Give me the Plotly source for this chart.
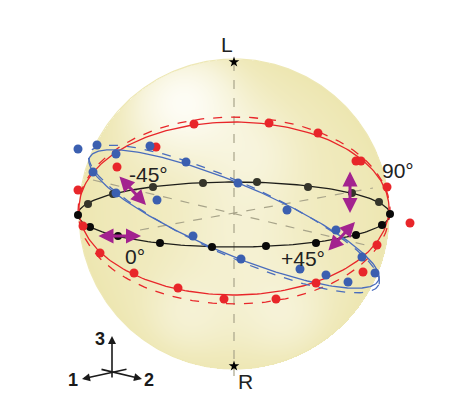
import numpy as np
import plotly.graph_objects as go

# measured points (screen coordinates of the figure, y grows downward)
red_x = [78, 117, 156, 194, 269, 318, 356, 361, 387, 410, 377, 363, 316, 276, 224, 178, 134, 100, 83]
red_y = [190, 167, 147, 124, 123, 133, 161, 161, 187, 223, 245, 272, 283, 299, 299, 288, 273, 253, 226]

blue_x = [78, 97, 150, 116, 186, 93, 116, 157, 238, 287, 193, 241, 336, 300, 326, 348, 375, 362]
blue_y = [149, 145, 146, 154, 162, 172, 193, 200, 183, 210, 236, 259, 230, 269, 275, 282, 273, 257]

black_back_x = [88, 113, 153, 203, 257, 308, 352, 379]
black_back_y = [204, 194, 187, 183, 182, 187, 193, 202]
black_front_x = [78, 90, 118, 160, 212, 266, 316, 356, 382, 390]
black_front_y = [215, 227, 236, 243, 247, 246, 243, 235, 225, 214]

# fitted circles seen in projection: (cx, cy, a, b, tilt deg)
fits = {
    "equator": (234, 214.5, 156, 32.5, 0),
    "red": (234, 208.5, 155, 86.5, 0),
    "red_dash": (234, 210.5, 156, 93.5, 0),
    "blue": (234, 219, 157, 35, 23),
    "blue_dash": (234, 219, 159, 36.5, 24.5),
}

arrow_labels = ["-45°", "0°", "90°", "+45°"]

SX, SY, SR = 234, 214, 155

W, H = 463, 408
OFF = 8  # page body margin
MAG = "#a3238f"
RED = "#e8262a"
BLUE = "#3b5fb0"


def ellipse(cx, cy, a, b, deg, n=240):
    t = np.linspace(0, 2 * np.pi, n)
    th = np.radians(deg)
    x = cx + a * np.cos(t) * np.cos(th) - b * np.sin(t) * np.sin(th)
    y = cy + a * np.cos(t) * np.sin(th) + b * np.sin(t) * np.cos(th)
    return x, y


fig = go.Figure()

# shaded sphere
gx = np.arange(SX - SR - 1, SX + SR + 2, 1.0)
gy = np.arange(SY - SR - 1, SY + SR + 2, 1.0)
XX, YY = np.meshgrid(gx, gy)
rr = np.hypot(XX - SX, YY - SY) / SR


def blob(x0, y0, s, k):
    return k * np.exp(-((XX - x0) ** 2 + (YY - y0) ** 2) / (2 * s ** 2))


shade = 0.35 - 0.12 * rr ** 6
shade += blob(180, 98, 40, 0.55) + blob(255, 152, 35, 0.2) + blob(240, 235, 45, 0.18)
shade += blob(285, 318, 35, 0.22) + blob(185, 318, 32, 0.2)
shade[rr > 1] = np.nan
fig.add_trace(go.Heatmap(
    x=gx, y=gy, z=shade, zmin=0.2, zmax=0.9, showscale=False, hoverinfo="skip",
    colorscale=[[0, "#ece5ad"], [0.25, "#f0eabd"], [0.6, "#f7f4dc"], [1, "#fefdf7"]],
))
cxs, cys = ellipse(SX, SY, SR, SR, 0, 400)
fig.add_trace(go.Scatter(x=cxs, y=cys, mode="lines", line=dict(color="#eee8b6", width=1.2),
                         hoverinfo="skip"))

# dashed gray axes
grey = dict(color="#a8a48a", width=1.2, dash="dash")
fig.add_trace(go.Scatter(x=[SX, SX], y=[62, 376], mode="lines", line=grey))
fig.add_trace(go.Scatter(x=[93, 374], y=[180, 247], mode="lines", line=grey))
fig.add_trace(go.Scatter(x=[140, 373], y=[230, 188], mode="lines", line=grey))

# fitted lines
for key, col, dash in [("equator", "#1e1e1a", "solid"), ("red", RED, "solid"),
                       ("red_dash", RED, "dash"), ("blue", "#4a6dbd", "solid"),
                       ("blue_dash", "#4a6dbd", "dash")]:
    ex, ey = ellipse(*fits[key])
    fig.add_trace(go.Scatter(x=ex, y=ey, mode="lines",
                             line=dict(color=col, width=1.3, dash=dash), hoverinfo="skip"))

# dots
fig.add_trace(go.Scatter(x=black_back_x, y=black_back_y, mode="markers",
                         marker=dict(size=8, color="#35352a")))
fig.add_trace(go.Scatter(x=black_front_x, y=black_front_y, mode="markers",
                         marker=dict(size=8, color="#0a0a0a")))
fig.add_trace(go.Scatter(x=red_x, y=red_y, mode="markers", marker=dict(size=9, color=RED)))
fig.add_trace(go.Scatter(x=blue_x, y=blue_y, mode="markers", marker=dict(size=9, color=BLUE)))

# poles
fig.add_trace(go.Scatter(x=[SX, SX], y=[62, 366], mode="markers",
                         marker=dict(symbol="star", size=8, color="black")))

ann = []
# polarization double arrows: (x0, y0, x1, y1)
for x0, y0, x1, y1 in [(118, 175, 146, 205), (97, 236, 141, 236),
                       (350, 170, 350, 213), (327, 252, 355, 222)]:
    ann.append(dict(x=x1, y=y1, ax=x0, ay=y0, xref="x", yref="y", axref="x", ayref="y",
                    showarrow=True, arrowhead=2, startarrowhead=2, arrowside="end+start",
                    arrowsize=1.0, startarrowsize=1.0, arrowwidth=3, arrowcolor=MAG, text=""))

txt = dict(family="Liberation Sans, Arial, sans-serif", size=21, color="#222222")
for label, (tx, ty) in zip(arrow_labels, [(148, 174), (135, 256), (398, 170), (303, 258)]):
    ann.append(dict(x=tx, y=ty, text=label, showarrow=False, font=txt))
ann.append(dict(x=227, y=44, text="L", showarrow=False, font=txt))
ann.append(dict(x=245, y=381, text="R", showarrow=False, font=txt))

# axis triad
tri = dict(xref="x", yref="y", axref="x", ayref="y", showarrow=True, arrowhead=2,
           arrowsize=1, arrowwidth=1.6, arrowcolor="#1a1a1a", text="")
ann.append(dict(x=112, y=336, ax=112, ay=379, **tri))
ann.append(dict(x=82, y=379, ax=128, ay=369, **tri))
ann.append(dict(x=142, y=379, ax=100, ay=369, **tri))
num = dict(family="Liberation Sans, Arial, sans-serif", size=18, color="#1a1a1a")
ann.append(dict(x=100, y=339, text="<b>3</b>", showarrow=False, font=num))
ann.append(dict(x=73, y=380, text="<b>1</b>", showarrow=False, font=num))
ann.append(dict(x=149, y=380, text="<b>2</b>", showarrow=False, font=num))

fig.update_layout(
    width=W, height=H, margin=dict(l=0, r=0, t=0, b=0),
    paper_bgcolor="white", plot_bgcolor="white", showlegend=False,
    xaxis=dict(range=[OFF, W + OFF], visible=False, fixedrange=True),
    yaxis=dict(range=[H + OFF, OFF], visible=False, fixedrange=True),
    annotations=ann,
)

fig.write_html("out.html")
